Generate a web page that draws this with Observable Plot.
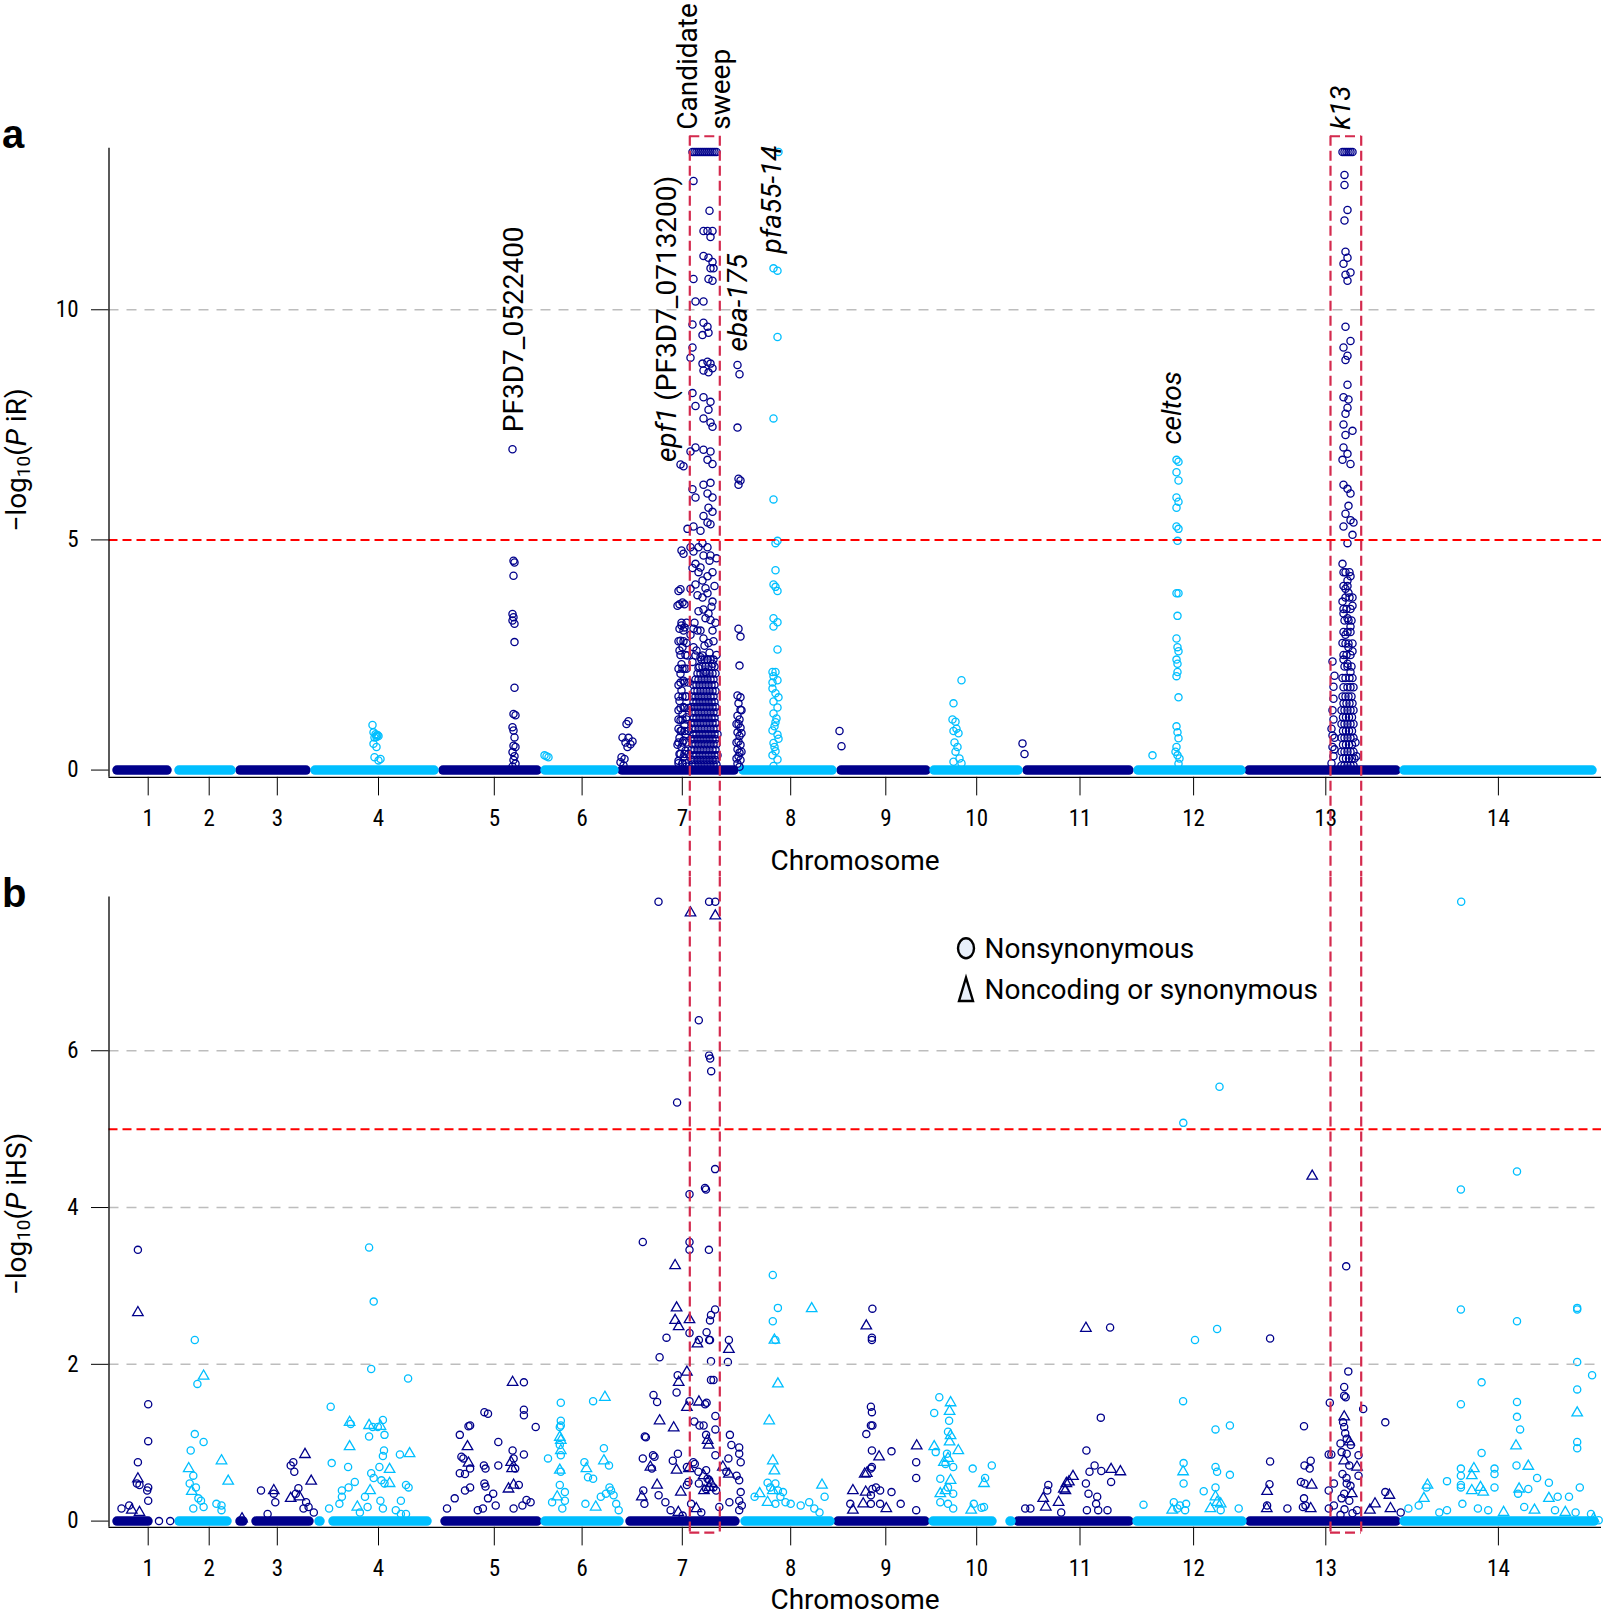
<!DOCTYPE html>
<html><head><meta charset="utf-8">
<script src="https://cdn.jsdelivr.net/npm/d3@7"></script>
<script src="https://cdn.jsdelivr.net/npm/@observablehq/plot@0.6"></script>
<style>
html,body{margin:0;padding:0;background:#fff;overflow:hidden;}
#wrap{width:1611px;position:relative;}
#wrap svg{display:block;max-width:none;}
#blabel{position:absolute;left:2px;top:873px;font:bold 40px 'Liberation Sans',Arial,sans-serif;line-height:40px;color:#000;}
</style></head><body><div id="wrap"></div>
<script>
// ---------- data (x = cumulative SNP index along the genome, y = -log10 P) ----------
const chromLabels = ["1","2","3","4","5","6","7","8","9","10","11","12","13","14"];
const chromTicks = [147.7,208.7,276.8,378,493.8,581.6,681.8,790.2,885.3,976.2,1079.5,1193.1,1325.3,1497.9];
// baseline extents of each chromosome [chrom, start, end]
const bandsA = [[1,117,167],[2,179,231],[3,240,306],[4,315,434],[5,443,537],[6,545,614],[7,622,734],[8,743,832],[9,841,926],[10,934,1018],[11,1027,1129],[12,1138,1241],[13,1249,1396],[14,1404,1592]];
const bandsB = [[1,117,148],[2,179,227],[3,240,243],[3,256,309],[4,319,320],[4,333,427],[5,445,537],[6,545,619],[7,630,735],[8,745,830],[9,838,925],[10,933,992],[10,1010,1011],[11,1018,1129],[12,1137,1242],[13,1250,1396],[14,1404,1594]];
// candidate regions [start, end]
const regions = [[689.3,719.3],[1330,1360.7]];
const thresholdA = 5, thresholdB = 5;
const gridA = [10], gridB = [2,4,6];
const yTicksA = [0,5,10], yTicksB = [0,2,4,6];

// panel a (iR) points
const aDark = [
[512,6.97],[513,4.55],[514,4.51],[513,4.22],[512,3.39],[513,3.32],[512,3.25],[514,3.18],[514,2.78],[514,1.79],[513,1.22],[515,1.19],[512,0.93],[513,0.86],[514,0.71],[513,0.53],[515,0.5],[512,0.39],[514,0.3],[513,0.22],[515,0.14],[512,0.08],
[628,1.06],[626,1.0],[622,0.71],[628,0.7],[625,0.6],[630,0.56],[627,0.5],[621,0.28],[624,0.24],[620,0.17],[623,0.1],[632,0.62],
[680,6.64],[683,6.6],[681,4.77],[683,4.7],[680,3.93],[678,3.89],[682,3.64],[677,3.57],[681,3.14],[684,3.1],[679,3.07],[683,3.03],[680,2.81],[686,2.76],[682,2.67],[679,2.6],[687,2.49],[681,2.3],[684,2.2],[680,2.09],[683,1.94],[678,1.85],[681,1.73],[685,1.6],[679,1.5],[683,1.37],[678,1.3],[682,1.22],[686,1.15],[680,1.08],[684,0.98],[678,0.9],[681,0.86],[685,0.78],[679,0.7],[683,0.64],[677,0.55],[681,0.5],[685,0.42],[679,0.35],[683,0.28],[678,0.2],[682,0.14],[686,0.08],
[692,13.43],[694,13.43],[696,13.43],[698,13.43],[700,13.43],[702,13.43],[704,13.43],[706,13.43],[708,13.43],[710,13.43],[712,13.43],[714,13.43],[716,13.43],
[693,12.8],[709,12.15],[703,11.71],[707,11.71],[712,11.71],[710,11.58],[703,11.17],[708,11.13],[712,11.04],[710,10.9],[713,10.9],[708,10.67],[712,10.63],[693,10.67],[695,10.18],[703,10.18],[692,9.68],[703,9.72],[707,9.63],[708,9.5],[702,9.45],[692,9.18],[690,8.96],[702,8.83],[707,8.87],[710,8.83],[703,8.68],[708,8.64],[712,8.73],[692,8.19],[695,7.91],[703,8.1],[710,8.0],[708,7.83],[703,7.64],[710,7.55],[712,7.46],[690,6.92],[695,7.01],[703,6.96],[710,6.92],[707,6.74],[712,6.65],[692,6.1],[695,5.92],[703,6.2],[710,6.24],[707,6.01],[712,5.92],[708,5.7],[712,5.61],[703,5.52],[707,5.38],[710,5.34],[687,5.24],[693,5.29],[700,5.2],[690,4.84],[693,4.75],[698,4.84],[702,4.93],[707,4.84],[710,4.66],[703,4.66],[692,4.39],[695,4.48],[698,4.3],[702,4.12],[707,4.21],[712,4.3],[690,3.94],[695,4.03],[702,3.75],[707,3.84],[712,3.66],[703,3.49],[708,3.4],[710,3.26],[693,3.07],[697,3.03],[700,3.03],[703,2.86],[708,2.76],[712,3.03],[702,2.49],[707,2.4],[712,2.31],[698,2.22],[705,2.13],[690,2.94],[693,2.67],[695,2.49],
[692,2.35],[696,2.6],[700,2.45],[704,2.7],[709,2.55],[713,2.8],[716,2.5],[694,3.2],[698,3.45],[705,3.3],[711,3.55],[715,3.2],[697,3.8],[705,3.95],[714,4.0],[700,4.4],[709,4.55],[716,4.6],
[737,8.8],[739,8.6],[737,7.44],[738,6.33],[740,6.29],[738,6.2],[738,3.07],[740,2.9],[739,2.27],[737,1.62],[740,1.58],[738,1.45],[740,1.31],[737,1.18],[739,1.1],[738,1.0],[740,0.92],[737,0.82],[739,0.74],[738,0.62],[740,0.55],[737,0.45],[739,0.38],[738,0.3],[740,0.22],[737,0.14],[739,0.07],[741,1.3],[736,1.0],[741,0.8],[736,0.6],[741,0.4],[736,0.25],
[839,0.85],[841,0.52],[1022,0.58],[1024,0.35],
[1342,13.43],[1344,13.43],[1346,13.43],[1348,13.43],[1350,13.43],[1352,13.43],
[1344,12.93],[1344,12.71],[1347,12.17],[1344,11.94],[1345,11.26],[1347,11.13],[1343,11.0],[1350,10.81],[1345,10.76],[1347,10.63],[1345,9.63],[1350,9.32],[1343,9.18],[1347,9.0],[1345,8.91],[1347,8.37],[1343,8.1],[1348,8.05],[1347,7.87],[1345,7.74],[1343,7.51],[1352,7.37],[1345,7.28],[1343,7.01],[1347,6.87],[1342,6.74],[1350,6.65],[1343,6.2],[1347,6.11],[1350,6.01],[1348,5.74],[1345,5.57],[1350,5.43],[1353,5.38],[1343,5.29],[1352,5.11],[1347,4.93],
[1342,4.48],[1343,4.3],[1347,4.12],[1350,4.21],[1345,3.94],[1348,3.85],[1342,3.66],[1352,3.57],[1343,3.4],[1347,3.3],[1350,3.12],[1345,2.94],[1342,2.76],[1348,2.67],[1352,2.58],[1343,2.4],[1347,2.31],[1350,2.13],[1332,2.36],[1333,1.81],
[1332,1.3],[1333,1.1],[1331,0.9],[1334,0.7],[1332,0.5],[1333,0.3],[1331,0.15],[1355,0.6],[1356,0.3],[1334,2.05],[1333,1.55],[1332,0.75],[1334,0.45]
];
// dense parts of the sweep peaks, read row by row: [value, x indices]
const chr7Core = [
[0.12,[692,695,698,701,704,707,710,713,716]],[0.22,[691,694,697,700,703,706,709,712,715]],[0.32,[693,696,699,702,705,708,711,714,717]],
[0.44,[691,694,697,700,703,706,709,712,715]],[0.56,[692,695,698,701,704,707,710,713,716]],[0.67,[691,694,697,700,703,706,709,712,715]],
[0.78,[693,696,699,702,705,708,711,714,717]],[0.9,[692,695,698,701,704,707,710,713,716]],[1.02,[691,694,697,700,703,706,709,712,715]],
[1.13,[693,696,699,702,705,708,711,714]],[1.25,[692,695,698,701,704,707,710,713,716]],[1.37,[691,694,697,700,703,706,709,712,715]],
[1.48,[693,696,699,702,705,708,711,714]],[1.6,[692,695,698,701,704,707,710,713]],[1.72,[694,697,700,703,706,709,712,715]],
[1.85,[693,696,699,702,705,708,711,714]],[1.97,[695,698,701,704,707,710,713]],[2.1,[697,700,703,706,709,712,715]],
[2.25,[699,702,705,708,711,714]],[2.4,[701,704,707,710,713]]
];
const chr7Flank = [
[0.15,[678,682,686]],[0.35,[680,684,688]],[0.6,[678,682,686]],[0.85,[680,684,688]],[1.1,[678,682,686]],[1.35,[680,684,688]],
[1.6,[678,682,686]],[1.9,[680,684,688]],[2.2,[678,682,686]],[2.5,[680,685]],[2.8,[678,683]],[3.2,[681,686]],[3.6,[679,684]]
];
const k13Core = [
[0.1,[1341,1344,1347,1350,1353]],[0.25,[1342.5,1345.5,1348.5,1351.5,1354]],[0.4,[1341,1344,1347,1350,1353]],[0.55,[1342.5,1345.5,1348.5,1351.5]],
[0.7,[1341,1344,1347,1350,1353]],[0.85,[1342.5,1345.5,1348.5,1351.5]],[1.0,[1341,1344,1347,1350,1353]],[1.15,[1342.5,1345.5,1348.5,1351.5]],
[1.3,[1341,1344,1347,1350,1353]],[1.45,[1343,1346,1349,1352]],[1.6,[1342,1345,1348,1351]],[1.8,[1343,1347,1350,1353]],
[2.0,[1342,1345,1349,1352]],[2.25,[1344,1347,1351]],[2.5,[1343,1346,1350]],[2.75,[1345,1348,1352]],[3.0,[1343,1347,1350]],
[3.25,[1344,1348,1351]],[3.5,[1343,1346,1350]],[3.75,[1345,1349,1352]],[4.0,[1343,1347]],[4.3,[1345,1349]]
];
const aLight = [
[372,0.98],[373,0.82],[375,0.78],[376,0.75],[377,0.76],[378,0.74],[374,0.71],[376,0.72],[373,0.57],[376,0.5],[374,0.28],[378,0.21],[380,0.24],
[544,0.32],[546,0.3],[548,0.28],
[778,13.43],[773,10.9],[777,10.85],[777,9.41],[773,7.64],[773,5.88],[775,4.93],[777,4.98],[775,4.34],[773,4.03],[777,3.89],[775,3.98],[773,3.3],[777,3.21],[773,3.12],[777,2.62],[772,2.13],[775,2.13],[773,2.04],[777,1.95],[772,1.77],[775,1.67],[773,1.49],[777,1.36],[773,1.23],[775,1.04],[772,0.86],[777,0.77],[773,0.59],[775,0.41],[772,0.32],[777,0.23],[773,0.09],[776,1.12],[774,0.95],[778,0.68],[772,1.9],[778,1.58],[774,0.5],
[961,1.95],[953,1.45],[952,1.1],[955,1.05],[956,0.9],[953,0.85],[958,0.8],[954,0.6],[957,0.5],[955,0.4],[959,0.25],[953,0.18],[961,0.15],
[1176,6.74],[1178,6.7],[1176,6.47],[1178,6.29],[1176,5.92],[1178,5.83],[1176,5.7],[1176,5.29],[1178,5.24],[1177,4.98],[1176,3.84],[1178,3.84],[1177,3.35],[1176,2.86],[1177,2.67],[1178,2.58],[1176,2.4],[1177,2.31],[1177,2.13],[1176,2.04],[1178,1.58],[1176,0.95],[1177,0.82],[1178,0.69],[1176,0.5],[1177,0.32],[1178,0.14],[1152,0.32],[1175,0.4],[1179,0.25]
];

// panel b (iHS) points: circles = nonsynonymous, triangles = noncoding or synonymous
const bDarkCirc = [
[137.4,3.46],[147.7,1.49],[147.7,1.02],[137.4,0.75],[136.4,0.48],[139,0.46],[147.7,0.43],[146.7,0.39],[147.7,0.26],[121,0.16],[128.7,0.2],[158.5,0],[169.7,0],
[292.8,0.75],[290.2,0.71],[293.8,0.63],[260.5,0.39],[273.3,0.35],[297.9,0.42],[295.3,0.35],[274.8,0.24],[305.6,0.24],[308.1,0.18],[303,0.16],[313.3,0.11],[267.1,0.09],
[523.4,1.77],[483.9,1.39],[487.5,1.37],[523.4,1.42],[523.4,1.35],[468,1.21],[469.6,1.22],[535.2,1.2],[459.3,1.1],[497.8,1.01],[512.1,0.9],[523.4,0.85],[460.9,0.82],[462.9,0.8],[469.6,0.67],[464.5,0.6],[459.3,0.61],[483.4,0.71],[485,0.67],[497.8,0.71],[513.1,0.8],[514.7,0.67],[518.3,0.46],[483.9,0.48],[485,0.44],[492.7,0.35],[487.5,0.29],[469.6,0.43],[464.5,0.39],[454.2,0.29],[526,0.27],[530.1,0.24],[521.9,0.2],[495.2,0.2],[482.4,0.16],[477.3,0.14],[513.1,0.16],[446.5,0.16],
[658,7.9],[708.6,7.9],[714.8,7.9],[698.3,6.39],[708.6,5.94],[709.7,5.9],[710.7,5.74],[676.6,5.34],[689,4.17],[704.5,4.25],[705.5,4.23],[714.6,4.49],
[642.3,3.56],[689,3.56],[689,3.46],[708.4,3.46],[666,2.34],[689,2.4],[710.5,2.63],[709.5,2.56],[714.6,2.7],[698.4,2.31],[706.1,2.41],[708.7,2.31],[709.5,2.31],[728.4,2.31],[659.1,2.09],[710.5,2.04],[727.4,2.03],[677.2,1.86],[710.5,1.8],[713,1.8],[676.1,1.64],[653,1.61],[656.6,1.52],[689,1.53],[706.1,1.51],[704.6,1.49],[714.9,1.34],[693.8,1.27],[699,1.22],[703.1,1.22],[705.6,1.1],[714.9,1.17],[644.3,1.08],[645.4,1.07],[729.4,1.1],[730.9,0.97],[738.7,0.94],[652.5,0.84],[654,0.82],[642.3,0.8],[692.8,0.75],[694.3,0.73],[672.3,0.77],[677.4,0.86],[714.9,0.84],[727.9,0.8],[738.7,0.86],[740.2,0.75],[651.4,0.67],[686.4,0.69],[697.9,0.63],[705.6,0.65],[707.1,0.54],[725.9,0.63],[736.1,0.58],[658.1,0.33],[642.8,0.39],[643.9,0.22],[687.9,0.5],[686.4,0.46],[698.4,0.48],[708.7,0.52],[713,0.43],[715.6,0.39],[705.6,0.41],[738.7,0.52],[740.2,0.37],[738.7,0.26],[741.3,0.2],[738.7,0.14],[664.9,0.24],[670.1,0.14],[690.6,0.22],[700.8,0.11],[718.8,0.18],[728.9,0.24],[682.1,0.07],
[871.9,2.71],[871.4,2.34],[871.4,2.31],[870.4,1.46],[871.4,1.39],[871.9,1.22],[870.4,1.22],[865.8,1.11],[871.4,0.9],[891,0.89],[915.7,0.75],[871.4,0.69],[870.4,0.67],[915.7,0.55],[871.9,0.41],[875.5,0.43],[879.6,0.39],[891,0.37],[870.4,0.33],[849.8,0.22],[870.4,0.22],[879.6,0.22],[900.2,0.22],[915.7,0.14],
[1109.6,2.47],[1100.3,1.32],[1085.9,0.9],[1094.1,0.71],[1089,0.63],[1100.8,0.64],[1110.6,0.5],[1085.4,0.48],[1088,0.35],[1047.8,0.46],[1046.8,0.39],[1096.7,0.31],[1095.6,0.22],[1097.7,0.14],[1024.7,0.16],[1029.9,0.16],[1060.7,0.11],[1107,0.14],[1086.4,0.14],
[1269.6,2.33],[1345.7,3.25],[1347.8,1.91],[1343.7,1.71],[1345.2,1.58],[1343.7,1.6],[1329.3,1.51],[1362.7,1.43],[1342.6,1.26],[1343.7,1.2],[1344.7,1.12],[1346.2,1.05],[1303.5,1.21],[1384.8,1.26],[1340,0.99],[1350.3,0.97],[1341.1,0.88],[1346.2,0.86],[1358,0.84],[1348.8,0.71],[1328.2,0.85],[1330.8,0.85],[1269.6,0.76],[1304,0.71],[1310.2,0.77],[1309.2,0.67],[1358,0.58],[1300.4,0.5],[1304,0.48],[1269,0.47],[1328.2,0.39],[1333.4,0.48],[1346.2,0.48],[1343.7,0.35],[1341.1,0.29],[1348.8,0.26],[1384.8,0.37],[1303.5,0.29],[1305,0.2],[1302.4,0.18],[1286.9,0.16],[1266.6,0.2],[1333.4,0.2],[1328.3,0.16],[1400.2,0.11],[1356.5,0.14],[1342,0.6],[1346,0.55],[1350,0.45],[1344,0.15],[1352,0.1],[1340,0.08]
];
const bDarkTri = [
[137.4,2.66],[137.4,0.54],[131.3,0.14],[139,0.11],
[304.5,0.85],[310.7,0.51],[273.3,0.39],[290.2,0.29],[298.9,0.31],[241.5,0.03],
[512.1,1.77],[467,0.95],[468,0.74],[510.6,0.75],[511.6,0.67],[513.1,0.46],[508,0.41],
[690,7.76],[714.8,7.72],[674.6,3.26],[676.1,2.72],[674.6,2.56],[678.2,2.48],[689,2.57],[696.9,2.26],[728.4,2.19],[686.4,1.9],[678.2,1.77],[686.4,1.45],[698.4,1.52],[659.1,1.28],[673.2,1.19],[707.1,1.03],[708.1,0.97],[649.9,0.69],[688.4,0.67],[703.1,0.58],[722.3,0.69],[728.4,0.6],[676.1,0.65],[656.6,0.46],[641.3,0.31],[680.3,0.37],[703.5,0.39],[710.5,0.48],[708.7,0.43],[677.8,0.11],[695.8,0.16],
[865.8,2.49],[916.2,0.96],[878.6,0.82],[864.2,0.6],[866.3,0.61],[852.4,0.39],[865.2,0.37],[862.7,0.22],[885.8,0.16],[852.4,0.14],
[1085.4,2.46],[1110.6,0.66],[1119.9,0.63],[1072.5,0.57],[1065.9,0.48],[1063.3,0.41],[1064.9,0.39],[1068.4,0.5],[1042.7,0.29],[1058.1,0.24],[1045.3,0.18],
[1311.7,4.4],[1343.7,1.33],[1348.8,1.01],[1343.7,0.77],[1356.5,0.69],[1311.2,0.46],[1266.6,0.38],[1351.3,0.35],[1388.9,0.33],[1310.2,0.16],[1266.3,0.16],[1374.5,0.22],[1369.4,0.14],[1390,0.16]
];
const bLightCirc = [
[194.3,2.31],[196.9,1.75],[194.3,1.11],[203.1,1.01],[190.2,0.9],[192.8,0.58],[189.2,0.48],[195.4,0.43],[197.9,0.29],[200.5,0.26],[215.9,0.22],[221,0.2],[203.1,0.18],[192.8,0.16],[221,0.14],
[368.6,3.49],[373.2,2.8],[370.7,1.94],[407.6,1.82],[330.2,1.46],[350.2,1.24],[372.2,1.2],[377.3,1.2],[382.4,1.29],[368.6,1.08],[384,1.1],[383.5,0.9],[382.4,0.83],[399.4,0.85],[331.2,0.74],[347.6,0.69],[378.9,0.69],[370.7,0.61],[373.2,0.55],[380.9,0.52],[384,0.48],[354.3,0.5],[341.4,0.39],[341.4,0.31],[348.1,0.43],[364.5,0.31],[379.9,0.26],[400.4,0.26],[405.5,0.46],[408.1,0.43],[328.6,0.16],[338.9,0.22],[359.4,0.11],[367.1,0.18],[382.4,0.16],[395.3,0.14],[400.4,0.09],[405.5,0.09],
[560.3,1.51],[592.6,1.53],[560.3,1.28],[560.3,1.22],[559.3,1.2],[559.3,0.97],[560.3,0.84],[603.4,0.93],[547.5,0.8],[583.9,0.75],[587.5,0.56],[592.6,0.54],[608.5,0.71],[560.3,0.63],[559.3,0.46],[609,0.43],[610.5,0.39],[605.4,0.35],[613.1,0.33],[600.3,0.31],[564.4,0.37],[551.6,0.24],[564.4,0.26],[561.8,0.16],[584.9,0.22],[615.7,0.22],[618.2,0.14],
[772.3,3.14],[772.3,2.55],[777.4,2.72],[774.9,2.31],[767.1,0.49],[769.7,0.43],[774.9,0.48],[777.4,0.39],[782.5,0.37],[774.9,0.22],[785,0.24],[754.1,0.31],[779.9,0.31],[790.2,0.22],[800.2,0.2],[824.1,0.31],[808.7,0.24],[813.8,0.16],[819,0.11],
[938.8,1.58],[948.6,1.28],[933.7,1.38],[947.5,1.14],[935.2,0.88],[946.5,0.86],[945,0.73],[952.7,0.69],[991.3,0.71],[972.2,0.67],[984.6,0.55],[939.8,0.54],[947.5,0.43],[952.7,0.35],[939.8,0.24],[947.5,0.22],[973.3,0.22],[981,0.17],[983.5,0.18],[952.7,0.16],
[1182.8,5.08],[1219,5.54],[1194.5,2.31],[1216.6,2.45],[1182.6,1.53],[1215,1.17],[1229.4,1.22],[1183.1,0.74],[1183.1,0.48],[1229.4,0.59],[1215,0.69],[1216.6,0.63],[1203.2,0.38],[1215,0.43],[1143,0.21],[1173.3,0.24],[1179.5,0.2],[1185.6,0.22],[1176.9,0.16],[1184.6,0.14],[1238.2,0.16],[1220.2,0.14],
[1460.7,7.9],[1516.5,4.46],[1460.4,4.23],[1460.4,2.7],[1516.5,2.55],[1576.7,2.72],[1576.7,2.7],[1576.7,2.03],[1591.6,1.86],[1481.1,1.77],[1576.7,1.68],[1460.4,1.49],[1516.5,1.52],[1516.5,1.33],[1519.6,1.17],[1576.7,1.01],[1576.7,0.93],[1481.1,0.87],[1516,0.71],[1494,0.67],[1494,0.6],[1460.4,0.67],[1460.4,0.58],[1446.5,0.51],[1460.4,0.46],[1460.4,0.43],[1426,0.43],[1494,0.43],[1517.6,0.35],[1527.8,0.41],[1536.6,0.55],[1548.4,0.49],[1557.2,0.31],[1568.5,0.31],[1579.3,0.43],[1418.2,0.2],[1407.9,0.16],[1438.8,0.11],[1446.5,0.14],[1461.9,0.22],[1477.4,0.16],[1487.7,0.14],[1523.7,0.18],[1554.5,0.14],[1575.1,0.11],[1590.5,0.09],[1598.2,0.01]
];
const bLightTri = [
[203.1,1.85],[221,0.77],[188.2,0.67],[191.3,0.38],[227.7,0.51],
[349.1,1.26],[368.6,1.22],[379.9,1.21],[349.1,0.95],[409.1,0.86],[389.1,0.66],[389.1,0.48],[369.6,0.39],[356.8,0.18],
[604.4,1.58],[559.3,1.07],[560.3,1.03],[560.3,0.9],[585.9,0.67],[603.4,0.77],[559.3,0.65],[556.7,0.31],[595.2,0.18],
[773.9,2.31],[777.4,1.75],[768.7,1.28],[772.3,0.77],[773.9,0.64],[772.3,0.39],[767.1,0.24],[759.2,0.35],[811.2,2.71],[821.5,0.46],
[950.1,1.51],[949.1,1.4],[950.1,1.09],[949.1,1.01],[957.8,0.9],[933.7,0.95],[947.5,0.8],[943.4,0.75],[983.5,0.48],[950.1,0.52],[945,0.39],[939.8,0.35],[970.7,0.14],
[1182.6,0.63],[1215,0.31],[1216.6,0.24],[1220.2,0.22],[1171.7,0.14],[1209.9,0.16],
[1576.7,1.38],[1515.5,0.96],[1527.8,0.7],[1473.4,0.67],[1471.3,0.58],[1427,0.46],[1423.4,0.29],[1471.3,0.39],[1480,0.43],[1482.7,0.37],[1518.6,0.41],[1548.4,0.29],[1503.1,0.11],[1534,0.14],[1564.8,0.11],[1593.1,0.03]
];

// gene annotations: [text, x index, y value where the label starts]
const geneLabels = [
  ["PF3D7_0522400", 513.4, 7.33],
  ["epf1| (PF3D7_0713200)", 666.3, 6.68],
  ["Candidate", 687, 13.9],
  ["sweep", 720, 13.9],
  ["eba-175", 736.5, 9.08],
  ["pfa55-14", 770.6, 11.21],
  ["celtos", 1171.4, 7.06],
  ["k13", 1339.8, 13.9]
];
const italicGenes = new Set(["epf1","eba-175","pfa55-14","celtos","k13"]);
const legendItems = ["Nonsynonymous", "Noncoding or synonymous"];

// ---------- drawing ----------
const expand = rows => rows.flatMap(([v, xs]) => xs.map(x => [x, v]));
const aDarkAll = aDark.concat(expand(chr7Core), expand(chr7Flank), expand(k13Core));

const DARK = "#00008B", LIGHT = "#00BFFF", BOXC = "#D42A4E", RED = "#FF0000", GREY = "#BDBDBD";
const W = 1611, HA = 876, HB = 744;
const xDomain = [108.5, 1601];
const yDomA = [-0.157, 13.51], yDomB = [-0.079, 7.96];
const TEXTFONT = "Roboto, 'Liberation Sans', sans-serif";
const lab = d => chromLabels[chromTicks.indexOf(d)];

function panel({height, mt, mb, yDom, yTicks, grid, thr, bands, dark, light, darkTri, lightTri, boxTop, boxBottom, topEdge, bottomEdge}) {
  const marks = [
    Plot.ruleY(bands.filter(b => b[0] % 2 === 1), {x1: b => b[1], x2: b => b[2], y: () => 0, stroke: DARK, strokeWidth: 9.5, strokeLinecap: "round"}),
    Plot.ruleY(bands.filter(b => b[0] % 2 === 0), {x1: b => b[1], x2: b => b[2], y: () => 0, stroke: LIGHT, strokeWidth: 9.5, strokeLinecap: "round"}),
    Plot.dot(light, {x: d => d[0], y: d => d[1], r: 3.6, stroke: LIGHT, strokeWidth: 1.3, fill: "none"}),
    Plot.dot(dark, {x: d => d[0], y: d => d[1], r: 3.6, stroke: DARK, strokeWidth: 1.3, fill: "none"})
  ];
  if (lightTri) marks.push(Plot.dot(lightTri, {x: d => d[0], y: d => d[1], r: 3.9, symbol: "triangle", stroke: LIGHT, strokeWidth: 1.3, fill: "none"}));
  if (darkTri) marks.push(Plot.dot(darkTri, {x: d => d[0], y: d => d[1], r: 3.9, symbol: "triangle", stroke: DARK, strokeWidth: 1.3, fill: "none"}));
  marks.push(
    Plot.ruleY(grid, {stroke: GREY, strokeWidth: 1.6, strokeDasharray: "10,8"}),
    Plot.ruleY([thr], {stroke: RED, strokeWidth: 2, strokeDasharray: "9,5"}),
    Plot.ruleX([xDomain[0]], {y1: yDom[0], y2: yDom[1], stroke: "black", strokeWidth: 1.3}),
    Plot.ruleY([yDom[0]], {x1: xDomain[0], x2: xDomain[1], stroke: "black", strokeWidth: 1.3}),
    Plot.ruleX(regions.flat(), {y1: boxTop, y2: boxBottom, stroke: BOXC, strokeWidth: 2.2, strokeDasharray: "10,5"})
  );
  if (topEdge) marks.push(Plot.ruleY(regions, {x1: d => d[0], x2: d => d[1], y: () => boxTop, stroke: BOXC, strokeWidth: 2.2, strokeDasharray: "10,5"}));
  if (bottomEdge) marks.push(Plot.ruleY(regions, {x1: d => d[0], x2: d => d[1], y: () => boxBottom, stroke: BOXC, strokeWidth: 2.2, strokeDasharray: "10,5"}));
  return Plot.plot({
    width: W, height, marginLeft: xDomain[0], marginRight: W - xDomain[1], marginTop: mt, marginBottom: mb,
    style: {fontFamily: "'Liberation Sans Narrow', 'Roboto Condensed', Roboto, sans-serif", fontSize: "23px", color: "black", background: "white"},
    x: {domain: xDomain, ticks: chromTicks, tickFormat: lab, tickSize: 18.6, tickPadding: 14, label: null},
    y: {domain: yDom, ticks: yTicks, tickSize: 17.5, tickPadding: 13, label: null},
    marks
  });
}

const svgA = panel({height: HA, mt: 147.7, mb: HA - 776.8, yDom: yDomA, yTicks: yTicksA, grid: gridA, thr: thresholdA,
  bands: bandsA, dark: aDarkAll, light: aLight, boxTop: 13.77, boxBottom: -2.6, topEdge: true});
const svgB = panel({height: HB, mt: 896.6 - HA, mb: 93.2, yDom: yDomB, yTicks: yTicksB, grid: gridB, thr: thresholdB,
  bands: bandsB, dark: bDarkCirc, light: bLightCirc, darkTri: bDarkTri, lightTri: bLightTri, boxTop: 8.6, boxBottom: -0.146, bottomEdge: true});

const wrap = document.getElementById("wrap");
wrap.append(svgA, svgB);
const bl = document.createElement("div");
bl.id = "blabel"; bl.textContent = "b";
wrap.append(bl);

function txt(svg, x, y, s, opts = {}) {
  return d3.select(svg).append("text")
    .attr("transform", `translate(${x},${y})` + (opts.rotate ? ` rotate(${opts.rotate})` : ""))
    .attr("font-family", opts.family || TEXTFONT).attr("font-size", opts.size || 28)
    .attr("font-weight", opts.weight || null).attr("fill", "black")
    .attr("text-anchor", opts.anchor || "start").attr("dominant-baseline", opts.baseline || "central")
    .text(s);
}
function yTitle(svg, x, y, stat) {
  const t = d3.select(svg).append("text").attr("transform", `translate(${x},${y}) rotate(-90)`)
    .attr("font-family", TEXTFONT).attr("font-size", 28).attr("fill", "black")
    .attr("text-anchor", "middle").attr("dominant-baseline", "central");
  t.append("tspan").text("\u2212log");
  t.append("tspan").attr("font-size", 19).attr("dy", 7).text("10");
  t.append("tspan").attr("dy", -7).text("(");
  t.append("tspan").attr("font-style", "italic").text("P");
  t.append("tspan").text(" " + stat + ")");
}

// panel labels and axis titles
txt(svgA, 2, 148, "a", {size: 40, weight: "bold", baseline: "auto", family: "'Liberation Sans', Arial, sans-serif"});
txt(svgA, 855, 860, "Chromosome", {anchor: "middle"});
txt(svgB, 855, 723, "Chromosome", {anchor: "middle"});
yTitle(svgA, 15.5, 460, "iR");
yTitle(svgB, 15.5, 338, "iHS");

// gene labels
const sx = svgA.scale("x"), sy = svgA.scale("y");
for (const [label, gx, gy] of geneLabels) {
  const t = d3.select(svgA).append("text")
    .attr("transform", `translate(${sx.apply(gx)},${sy.apply(gy)}) rotate(-90)`)
    .attr("font-family", TEXTFONT).attr("font-size", 28).attr("fill", "black")
    .attr("text-anchor", "start").attr("dominant-baseline", "central");
  for (const part of label.split("|")) {
    t.append("tspan").attr("font-style", italicGenes.has(part.trim()) ? "italic" : null).text(part);
  }
}

// legend (panel b)
const gl = d3.select(svgB).append("g");
gl.append("ellipse").attr("cx", 966).attr("cy", 72.3).attr("rx", 8).attr("ry", 10)
  .attr("fill", "#E8EFFA").attr("stroke", "black").attr("stroke-width", 2.4);
gl.append("path").attr("d", "M966,101.6 L973,125 L959,125 Z")
  .attr("fill", "#E8EFFA").attr("stroke", "black").attr("stroke-width", 2.4).attr("stroke-linejoin", "miter");
txt(svgB, 984.5, 72.3, legendItems[0]);
txt(svgB, 984.5, 113.6, legendItems[1]);
</script></body></html>
